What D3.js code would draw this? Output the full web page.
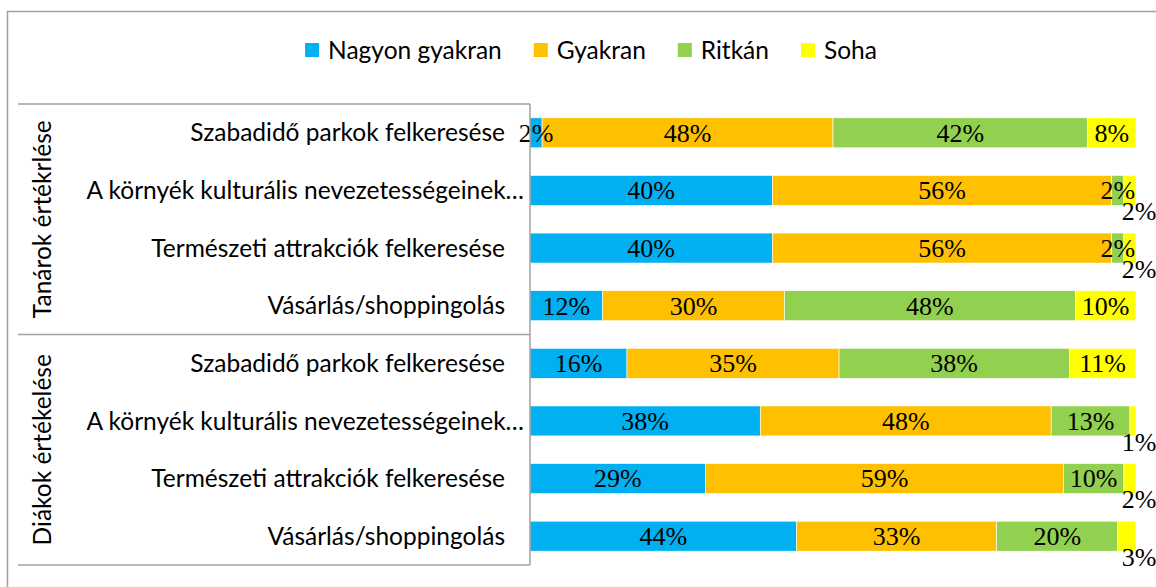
<!DOCTYPE html>
<html>
<head>
<meta charset="utf-8">
<script src="https://cdn.jsdelivr.net/npm/d3@7"></script>
<style>
body { margin: 0; background: #fff; }
svg text { fill: #000; }
.cat { font-family: Lato, "Open Sans", sans-serif; font-size: 24.5px; }
.val { font-family: "Liberation Serif", "Times New Roman", Times, serif; font-size: 26px; }
</style>
</head>
<body>
<div id="chart"></div>
<script>
var svgWidth = 1156;
var svgHeight = 587;
var groups = ["Tanárok értékrlése", "Diákok értékelése"];
var activities = ["Szabadidő parkok felkeresése", "A környék kulturális nevezetességeinek…", "Természeti attrakciók felkeresése", "Vásárlás/shoppingolás"];
var series = ["Nagyon gyakran", "Gyakran", "Ritkán", "Soha"];
var colors = ["#00B0F0", "#FFC000", "#92D050", "#FFFF00"];
// percentages per activity, same order as series
var tanarok = [[2, 48, 42, 8], [40, 56, 2, 2], [40, 56, 2, 2], [12, 30, 48, 10]];
var diakok = [[16, 35, 38, 11], [38, 48, 13, 1], [29, 59, 10, 2], [44, 33, 20, 3]];

var plot = {top: 104, bottom: 565, left: 530, right: 1136, boxLeft: 18};

document.addEventListener("DOMContentLoaded", function () { main(); });

function main() {
    var svg = d3.select("#chart").append("svg")
        .attr("width", svgWidth)
        .attr("height", svgHeight);

    // outer chart frame
    svg.append("rect")
        .attr("x", 7.5).attr("y", 11.5)
        .attr("width", 1300).attr("height", 800)
        .attr("fill", "none")
        .attr("stroke", "#a0a0a0")
        .attr("stroke-width", 1.5);

    var rows = [];
    [tanarok, diakok].forEach(function (g, gi) {
        g.forEach(function (v, i) {
            var r = {id: gi + "-" + i, group: groups[gi], name: activities[i]};
            series.forEach(function (s, si) { r[s] = v[si]; });
            rows.push(r);
        });
    });

    var y = d3.scaleBand()
        .domain(rows.map(d => d.id))
        .range([plot.top, plot.bottom])
        .paddingInner(0.48)
        .paddingOuter(0.24);
    var x = d3.scaleLinear().domain([0, 1]).range([plot.left, plot.right]);

    var stack = d3.stack().keys(series).offset(d3.stackOffsetExpand)(rows);

    var layer = svg.selectAll(".layer")
        .data(stack)
        .enter().append("g")
        .attr("class", "layer")
        .attr("fill", (d, i) => colors[i]);
    layer.selectAll("rect")
        .data(d => d)
        .enter().append("rect")
        .attr("x", d => x(d[0]))
        .attr("y", d => y(d.data.id))
        .attr("width", d => x(d[1]) - x(d[0]))
        .attr("height", y.bandwidth())
        .attr("stroke", "#fff")
        .attr("stroke-width", 0.6);

    // data labels
    var lab = svg.append("g");
    stack.forEach(function (s, si) {
        s.forEach(function (d) {
            var v = d.data[s.key];
            var cx = (x(d[0]) + x(d[1])) / 2;
            var cy = y(d.data.id) + y.bandwidth() / 2;
            // tiny "Soha" values were nudged below the bar end
            if (si === 3 && v < 5) { cx = x(d[1]) + 3; cy += 21; }
            lab.append("text")
                .attr("class", "val")
                .style("font-family", "'Liberation Serif', 'Times New Roman', Times, serif")
                .attr("x", cx)
                .attr("y", cy)
                .attr("dy", "0.34em")
                .attr("text-anchor", "middle")
                .text(v + "%");
        });
    });

    // category axis box
    var box = svg.append("g")
        .attr("stroke", "#a0a0a0")
        .attr("stroke-width", 1.5);
    [plot.top, y(rows[4].id) - (y.step() - y.bandwidth()) / 2, plot.bottom].forEach(function (yy) {
        box.append("line")
            .attr("x1", plot.boxLeft).attr("x2", plot.left)
            .attr("y1", yy).attr("y2", yy);
    });
    box.append("line")
        .attr("x1", plot.left).attr("x2", plot.left)
        .attr("y1", plot.top).attr("y2", plot.bottom);

    svg.append("g").selectAll("text")
        .data(rows)
        .enter().append("text")
        .attr("class", "cat")
        .attr("x", d => d.name.endsWith("…") ? 524 : 505)
        .attr("y", d => y(d.id) + y.bandwidth() / 2)
        .attr("dy", "0.35em")
        .attr("text-anchor", "end")
        .text(d => d.name);

    var mid = (plot.top + plot.bottom) / 2;
    svg.append("g").selectAll("text")
        .data(groups)
        .enter().append("text")
        .attr("class", "cat")
        .attr("text-anchor", "middle")
        .attr("dy", "0.35em")
        .attr("transform", (d, i) => "translate(42," + (i === 0 ? (plot.top + mid) / 2 : (mid + plot.bottom) / 2) + ") rotate(-90)")
        .text(d => d);

    legendmaker(svg);
}

function legendmaker(svg) {
    var lg = svg.append("g").attr("class", "legend");
    var items = lg.selectAll("g")
        .data(series)
        .enter().append("g");
    items.append("rect")
        .attr("width", 14).attr("height", 14)
        .attr("y", -7)
        .attr("fill", (d, i) => colors[i]);
    items.append("text")
        .attr("class", "cat")
        .attr("x", 23)
        .attr("dy", "0.35em")
        .text(d => d);
    var pos = 0, offs = [];
    items.each(function () {
        offs.push(pos);
        pos += 23 + d3.select(this).select("text").node().getComputedTextLength() + 32;
    });
    pos -= 32;
    items.attr("transform", (d, i) => "translate(" + (offs[i] + 591 - pos / 2) + ",0)");
    lg.attr("transform", "translate(0,50)");
}
</script>
</body>
</html>
